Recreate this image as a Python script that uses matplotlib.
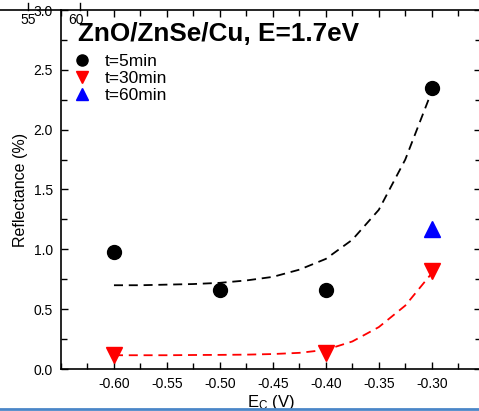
import matplotlib
matplotlib.use('Agg')
import matplotlib.pyplot as plt
from matplotlib.lines import Line2D
from matplotlib.ticker import MultipleLocator

plt.rcParams['font.family'] = ['Liberation Sans', 'DejaVu Sans']
plt.rcParams['mathtext.fontset'] = 'custom'
plt.rcParams['mathtext.rm'] = 'Liberation Sans'

# measured points
ec_5 = [-0.60, -0.50, -0.40, -0.30]
r_5 = [0.98, 0.66, 0.66, 2.35]
ec_30 = [-0.60, -0.40, -0.30]
r_30 = [0.12, 0.13, 0.82]
ec_60 = [-0.30]
r_60 = [1.17]

# dashed fit curves
fit_x = [-0.600, -0.575, -0.550, -0.525, -0.500, -0.475, -0.450, -0.425,
         -0.400, -0.375, -0.350, -0.325, -0.300]
fit_5 = [0.70, 0.70, 0.705, 0.71, 0.72, 0.74, 0.77, 0.83,
         0.92, 1.08, 1.33, 1.75, 2.32]
fit_30 = [0.115, 0.115, 0.115, 0.117, 0.118, 0.12, 0.125, 0.135,
          0.16, 0.23, 0.35, 0.53, 0.80]

W, H = 479, 411
fig = plt.figure(figsize=(W / 100, H / 100), dpi=100)
ax = fig.add_axes([61 / W, 1 - 369 / H, (481 - 61) / W, (369 - 10) / H])

dash = (0, (5, 3.2))
ax.plot(fit_x, fit_5, color='black', lw=1.3, linestyle=dash)
ax.plot(fit_x, fit_30, color='red', lw=1.3, linestyle=dash)

ax.plot(ec_5, r_5, 'o', color='black', ms=10, label='t=5min')
ax.plot(ec_30, r_30, 'v', color='red', ms=11, label='t=30min')
ax.plot(ec_60, r_60, '^', color='blue', ms=11, label='t=60min')

ax.set_xlim(-0.65, -0.2535)
ax.set_ylim(0, 3.0)
ax.xaxis.set_major_locator(MultipleLocator(0.05))
ax.xaxis.set_minor_locator(MultipleLocator(0.025))
ax.yaxis.set_major_locator(MultipleLocator(0.5))
ax.yaxis.set_minor_locator(MultipleLocator(0.25))
ax.set_xticks([-0.60, -0.55, -0.50, -0.45, -0.40, -0.35, -0.30])
ax.set_xticklabels(['-0.60', '-0.55', '-0.50', '-0.45', '-0.40', '-0.35', '-0.30'])
ax.tick_params(which='both', direction='in', top=True, right=True, labelsize=10, width=1)
ax.tick_params(which='major', length=5, pad=6)
ax.tick_params(which='minor', length=4)
for s in ax.spines.values():
    s.set_linewidth(1.2)

ax.set_ylabel('Reflectance (%)', fontsize=11.5, labelpad=4)
ax.set_xlabel(r'$\mathregular{E_C}$ (V)', fontsize=12, labelpad=1)

leg = ax.legend(loc='upper left', bbox_to_anchor=(0.033, 0.877), frameon=False,
                fontsize=12.5, handlelength=0.8, handletextpad=0.95,
                labelspacing=0.1, borderpad=0, borderaxespad=0, numpoints=1,
                markerscale=0.8)

fig.text(78 / W, 1 - 34 / H, 'ZnO/ZnSe/Cu, E=1.7eV', fontsize=18.8, fontweight='bold',
         va='center', ha='left')

# leftovers of the neighbouring panel
fig.text(28 / W, 1 - 20 / H, '55', fontsize=10, ha='center', va='center')
fig.text(76 / W, 1 - 20 / H, '60', fontsize=10, ha='center', va='center')
fig.add_artist(Line2D([0, 61 / W], [1 - 10 / H, 1 - 10 / H], color='black', lw=1.2))
for px in [28, 80]:
    fig.add_artist(Line2D([px / W, px / W], [1 - 10 / H, 1 - 3 / H], color='black', lw=1))

# screenshot border
fig.add_artist(Line2D([0, 1], [1 - 409 / H, 1 - 409 / H], color='#4a86c8', lw=2))

fig.savefig('out.png', dpi=100)
